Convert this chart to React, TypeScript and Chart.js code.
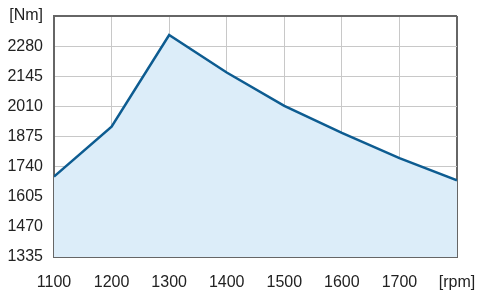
import React, { useEffect, useRef } from "react";
import { Chart, registerables } from "chart.js";

Chart.register(...registerables);

const rpm = [1100, 1200, 1300, 1400, 1500, 1600, 1700, 1800];
const torque = [1695, 1919, 2330, 2162, 2012, 1891, 1778, 1679];
const yTicksMin = 1335;
const yTicksMax = 2415;
const yStep = 135;
const xUnit = "[rpm]";
const yUnit = "[Nm]";

export default function App() {
  const ref = useRef<HTMLCanvasElement | null>(null);

  useEffect(() => {
    document.body.style.margin = "0";
    const canvas = ref.current;
    if (!canvas) return;
    const font = { family: "'Liberation Sans', Arial, sans-serif", size: 16 };
    const chart = new Chart(canvas, {
      type: "line",
      data: {
        datasets: [
          {
            data: rpm.map((x, i) => ({ x, y: torque[i] })),
            borderColor: "#0d5c91",
            backgroundColor: "#dcedf9",
            borderWidth: 2.5,
            fill: "start",
            pointRadius: 0,
            tension: 0,
          },
        ],
      },
      options: {
        animation: false,
        responsive: false,
        maintainAspectRatio: false,
        layout: { padding: { top: 16, right: 35, left: 0, bottom: 0 } },
        plugins: { legend: { display: false }, tooltip: { enabled: false } },
        scales: {
          x: {
            type: "linear",
            min: rpm[0],
            max: rpm[rpm.length - 1],
            afterFit: (s: any) => {
              s.height = 34;
            },
            ticks: {
              stepSize: 100,
              color: "#222",
              font,
              padding: 16,
              maxRotation: 0,
              callback: (v: any) => (v === rpm[rpm.length - 1] ? xUnit : String(v)),
            },
            grid: {
              drawTicks: false,
              color: (c: any) => (c.tick && c.tick.value === rpm[rpm.length - 1] ? "#666" : "#c8c8c8"),
              lineWidth: (c: any) => (c.tick && c.tick.value === rpm[rpm.length - 1] ? 2 : 1),
            },
            border: { color: "#666", width: 2 },
          },
          y: {
            min: yTicksMin,
            max: yTicksMax,
            afterFit: (s: any) => {
              s.width = 54;
              s.paddingTop = 0;
              s.paddingBottom = 0;
            },
            ticks: {
              stepSize: yStep,
              color: "#222",
              font,
              padding: 11,
              callback: (v: any) => (v === yTicksMax ? yUnit : String(v)),
            },
            grid: {
              drawTicks: false,
              color: (c: any) => (c.tick && c.tick.value === yTicksMax ? "#666" : "#c8c8c8"),
              lineWidth: (c: any) => (c.tick && c.tick.value === yTicksMax ? 2 : 1),
            },
            border: { color: "#666", width: 2 },
          },
        },
      },
    });
    return () => chart.destroy();
  }, []);

  return (
    <div style={{ width: 492, height: 291 }}>
      <canvas ref={ref} width={492} height={291} style={{ display: "block" }} />
    </div>
  );
}
